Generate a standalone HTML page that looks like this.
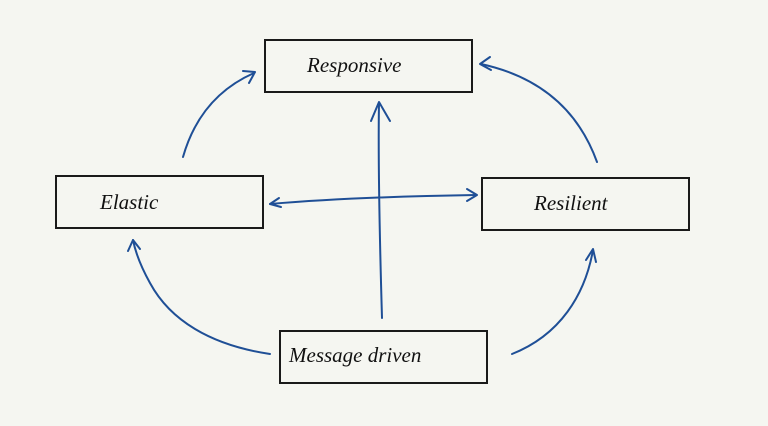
<!DOCTYPE html>
<html><head><style>
html,body{margin:0;padding:0;background:#f5f6f1;}
svg{display:block}
text{font-family:"Liberation Serif",serif;font-style:italic;font-size:21px;fill:#111;}
</style></head><body>
<svg width="768" height="426" viewBox="0 0 768 426" xmlns="http://www.w3.org/2000/svg">
<rect width="768" height="426" fill="#f5f6f1"/>
<g fill="none" stroke="#1a1a1a" stroke-width="2">
<rect x="265" y="40" width="207" height="52"/>
<rect x="56" y="176" width="207" height="52"/>
<rect x="482" y="178" width="207" height="52"/>
<rect x="280" y="331" width="207" height="52"/>
</g>
<text x="307" y="72">Responsive</text>
<text x="100" y="209">Elastic</text>
<text x="534" y="210">Resilient</text>
<text x="289" y="362">Message  driven</text>
<g fill="none" stroke="#1f4f96" stroke-width="2" stroke-linecap="round" stroke-linejoin="round">
<path d="M183 157 C195 115 220 88 254 73"/><path d="M243 71 L255 72 L249 83"/>
<path d="M597 162 C580 115 545 78 481 64"/><path d="M490 57 L480 64 L491 70"/>
<path d="M382 318 C380 250 378 160 379 103"/><path d="M371 121 L379 102 L390 121"/>
<path d="M270 204 C340 198 410 196 476 195"/><path d="M279 198 L270 204 L281 207"/><path d="M467 189 L477 195 L467 201"/>
<path d="M270 354 C210 345 170 320 150 283 C140 265 135 250 133 240"/><path d="M128 251 L133 240 L140 249"/>
<path d="M512 354 C560 335 585 295 593 250"/><path d="M586 260 L593 249 L596 262"/>
</g>
</svg>
</body></html>
